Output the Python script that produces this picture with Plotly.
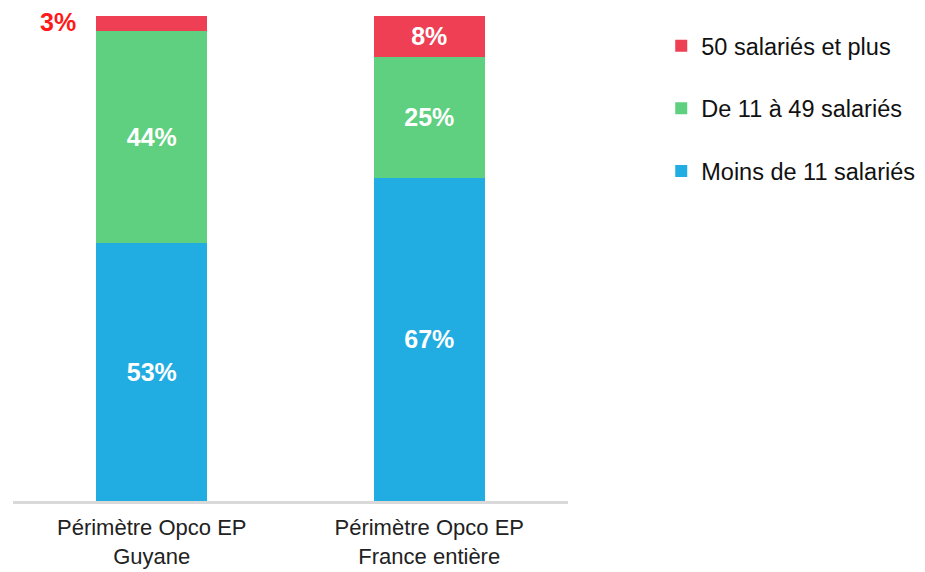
import plotly.graph_objects as go

categories = ["Périmètre Opco EP<br>Guyane", "Périmètre Opco EP<br>France entière"]
series_names = ["Moins de 11 salariés", "De 11 à 49 salariés", "50 salariés et plus"]
moins_11 = [53.1, 66.7]
de_11_49 = [43.8, 24.9]
plus_50 = [3.1, 8.4]
colors = ["#22ADE2", "#5FCF80", "#EE3F55"]

values = [moins_11, de_11_49, plus_50]
FONT = "Liberation Sans, Arial"

fig = go.Figure()
for i, (name, vals, col) in enumerate(zip(series_names, values, colors)):
    texts = [f"{round(v)}%" for v in vals]
    if i == 2:
        texts = ["", f"{round(vals[1])}%"]
    fig.add_trace(go.Bar(
        x=categories, y=vals, name=name, marker_color=col,
        marker_line_width=0,
        text=texts, textposition="inside", insidetextanchor="middle",
        textfont=dict(family=FONT, size=25, color="white", weight="bold"),
        textangle=0, cliponaxis=False, hoverinfo="skip",
        legendgroup=name, legendrank=3 - i,
    ))

# outside label for the small Guyane segment
fig.add_annotation(
    x=categories[0], y=moins_11[0] + de_11_49[0] + plus_50[0],
    text=f"<b>{round(plus_50[0])}%</b>", showarrow=False,
    xanchor="right", yanchor="middle", xshift=-74, yshift=-6,
    font=dict(family=FONT, size=25, color="#FF1A1A"),
)

fig.update_layout(
    barmode="stack",
    bargap=0.6,
    width=925, height=572,
    margin=dict(l=5, r=365, t=8, b=79),
    paper_bgcolor="white", plot_bgcolor="white",
    font=dict(family=FONT, size=22, color="#222222"),
    showlegend=True,
    legend=dict(
        x=1.168, y=0.9835, xanchor="left", yanchor="top",
        traceorder="grouped", tracegroupgap=29,
        font=dict(size=23.5, color="#111111"),
        itemwidth=30,
    ),
    xaxis=dict(
        showline=True, linecolor="#D9D9D9", linewidth=2.5,
        tickfont=dict(size=22, color="#222222"), ticks="",
        ticklabelstandoff=5,
    ),
    yaxis=dict(range=[0, 100], visible=False, showgrid=False),
)

fig.write_html("out.html")
